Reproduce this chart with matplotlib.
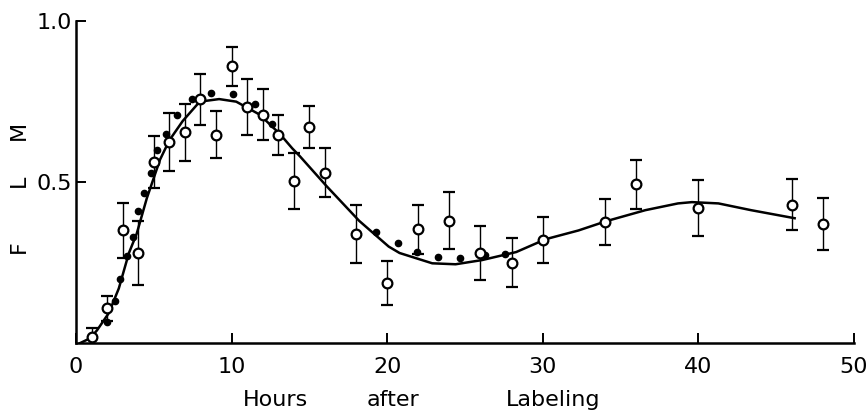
import matplotlib
matplotlib.use("Agg")
import matplotlib.pyplot as plt

# Measured points (open circles) with error bars
hours = [1, 2, 3, 4, 5, 6, 7, 8, 9, 10, 11, 12, 13, 14, 15, 16, 18, 20,
         22, 24, 26, 28, 30, 34, 36, 40, 46, 48]
flm = [0.019, 0.108, 0.35, 0.28, 0.562, 0.624, 0.655, 0.757, 0.647, 0.86,
       0.733, 0.71, 0.647, 0.503, 0.67, 0.53, 0.338, 0.186, 0.354, 0.38,
       0.28, 0.25, 0.32, 0.376, 0.494, 0.42, 0.43, 0.37]
flm_err = [0.028, 0.038, 0.085, 0.10, 0.08, 0.09, 0.088, 0.078, 0.073, 0.06,
           0.087, 0.08, 0.063, 0.087, 0.065, 0.076, 0.09, 0.068, 0.076, 0.088,
           0.084, 0.077, 0.072, 0.072, 0.076, 0.086, 0.08, 0.082]

# Solid fitted curve
fit_h = [0.25, 0.9, 1.35, 2.1, 2.75, 3.4, 3.9, 4.55, 5.4, 6.0, 6.86, 7.95,
         9.2, 10.3, 11.8, 13.1, 13.9, 14.4, 16.1, 18.2, 20.1, 20.8, 22.9,
         24.4, 26.1, 28.3, 30.2, 32.3, 34.1, 36.6, 38.7, 39.6, 41.3, 43.4, 46.2]
fit_v = [0.0, 0.015, 0.04, 0.093, 0.17, 0.28, 0.34, 0.45, 0.57, 0.63, 0.69,
         0.75, 0.758, 0.75, 0.71, 0.65, 0.605, 0.58, 0.488, 0.38, 0.30, 0.28,
         0.248, 0.245, 0.258, 0.283, 0.323, 0.35, 0.379, 0.413, 0.434, 0.438,
         0.434, 0.413, 0.388]

# Dotted curve (filled dots)
dot_h = [2.0, 2.5, 2.8, 3.25, 3.65, 4.0, 4.4, 4.8, 5.2, 5.8, 6.5, 7.45, 8.7,
         10.1, 11.5, 12.6, 19.3, 20.7, 21.9, 23.3, 24.7, 26.3, 27.6]
dot_v = [0.065, 0.13, 0.2, 0.27, 0.33, 0.41, 0.467, 0.53, 0.60, 0.65, 0.71,
         0.758, 0.777, 0.773, 0.742, 0.68, 0.345, 0.31, 0.282, 0.268, 0.263,
         0.273, 0.278]

# axis label pieces, spread out like the original
xlabel_words = ["Hours", "after", "Labeling"]
xlabel_pos = [12.8, 20.4, 30.7]
ylabel_letters = ["F", "L", "M"]
ylabel_pos = [0.30, 0.505, 0.66]

fig = plt.figure(figsize=(8.68, 4.19), dpi=100)
ax = fig.add_axes([0.0876, 0.181, 0.896, 0.7685])

ax.plot(fit_h, fit_v, color="black", lw=1.8, zorder=2)
ax.plot(dot_h, dot_v, "o", color="black", ms=4.5, zorder=3)
ax.errorbar(hours, flm, yerr=flm_err, fmt="o", mfc="white", mec="black",
            mew=1.6, ms=7, ecolor="black", elinewidth=1.0, capsize=4,
            capthick=1.0, zorder=4)

ax.set_xlim(0, 50)
ax.set_ylim(0, 1.0)
ax.spines["top"].set_visible(False)
ax.spines["right"].set_visible(False)
ax.spines["left"].set_linewidth(1.8)
ax.spines["bottom"].set_linewidth(1.8)

ax.set_xticks([0, 10, 20, 30, 40, 50])
ax.set_yticks([0.5, 1.0])
ax.set_yticklabels(["0.5", "1.0"])
ax.tick_params(direction="in", length=7, width=1.4, labelsize=16)
ax.tick_params(axis="x", pad=10)
ax.tick_params(axis="y", pad=3)

for word, xp in zip(xlabel_words, xlabel_pos):
    ax.text(xp, -0.175, word, transform=ax.get_xaxis_transform(),
            fontsize=16, ha="center", va="center")
for letter, yp in zip(ylabel_letters, ylabel_pos):
    ax.text(-0.073, yp, letter, transform=ax.transAxes, rotation=90,
            fontsize=16, ha="center", va="center")

fig.savefig("out.png", dpi=100)
